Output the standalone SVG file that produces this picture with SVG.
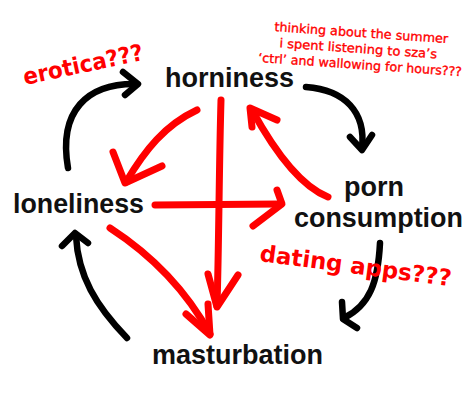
<svg xmlns="http://www.w3.org/2000/svg" width="474" height="409" viewBox="0 0 474 409">
<style>
.node{font-family:"Liberation Sans",Arial,sans-serif;font-weight:bold;font-size:27px;fill:#111}
.note{font-family:"DejaVu Sans","Liberation Sans",sans-serif;fill:#f00}
.thin{stroke:#f00;stroke-width:0.35}
.blk{fill:none;stroke:#000;stroke-width:6.5;stroke-linecap:round;stroke-linejoin:round}
.red{fill:none;stroke:#f00;stroke-width:7;stroke-linecap:round;stroke-linejoin:round}
</style>
<rect width="474" height="409" fill="#fff"/>
<g id="connectors">
  <path class="blk" d="M68,168 C58,110 88,84 134,84"/>
  <path class="blk" d="M123,72 L138,84 L125,95"/>
  <path class="blk" d="M306,87 C345,90 366,112 362,148"/>
  <path class="blk" d="M350,137 L362,150 L372,135"/>
  <path class="blk" d="M380,243 C378,282 370,305 344,318"/>
  <path class="blk" d="M342,302 L343,319 L357,328"/>
  <path class="blk" d="M127,338 C96,306 78,276 76,236"/>
  <path class="blk" d="M62,246 L75,233 L88,243"/>
  <path class="red" d="M197,110 C165,125 145,150 126,182"/>
  <path class="red" d="M113,152 L125,183 L162,166"/>
  <path class="red" d="M221,100 C219,170 219,240 217,306"/>
  <path class="red" d="M208,274 L217,307 L238,275"/>
  <path class="red" d="M155,205 L280,204"/>
  <path class="red" d="M277,190 L282,204 L253,226"/>
  <path class="red" d="M328,197 C300,186 275,152 252,110"/>
  <path class="red" d="M252,127 L250,108 L277,120"/>
  <path class="red" d="M110,228 C150,254 186,290 210,334"/>
  <path class="red" d="M186,314 L210,335 L208,304"/>
</g>
<g id="horniness"><text class="node" x="165" y="87" textLength="129" lengthAdjust="spacingAndGlyphs">horniness</text></g>
<g id="loneliness"><text class="node" x="13" y="213" textLength="131" lengthAdjust="spacingAndGlyphs">loneliness</text></g>
<g id="porn-consumption">
  <text class="node" x="374" y="196" text-anchor="middle">porn</text>
  <text class="node" x="294" y="227" textLength="169" lengthAdjust="spacingAndGlyphs">consumption</text>
</g>
<g id="masturbation"><text class="node" x="152" y="364" textLength="171" lengthAdjust="spacingAndGlyphs">masturbation</text></g>
<g id="note-erotica"><text class="note" font-size="23" font-weight="bold" transform="translate(25,85) rotate(-12)" textLength="122" lengthAdjust="spacingAndGlyphs">erotica???</text></g>
<g id="note-dating"><text class="note" font-size="23" font-weight="bold" transform="translate(259,261) rotate(7.5)" textLength="193" lengthAdjust="spacingAndGlyphs">dating apps???</text></g>
<g id="note-sza" transform="rotate(4 360 52)">
  <text class="note thin" font-size="12.5" x="360" y="37" text-anchor="middle" textLength="174" lengthAdjust="spacingAndGlyphs">thinking about the summer</text>
  <text class="note thin" font-size="12.5" x="358" y="53" text-anchor="middle" textLength="158" lengthAdjust="spacingAndGlyphs">i spent listening to sza’s</text>
  <text class="note thin" font-size="12.5" x="361" y="69" text-anchor="middle" textLength="204" lengthAdjust="spacingAndGlyphs">‘ctrl’ and wallowing for hours???</text>
</g>
</svg>
